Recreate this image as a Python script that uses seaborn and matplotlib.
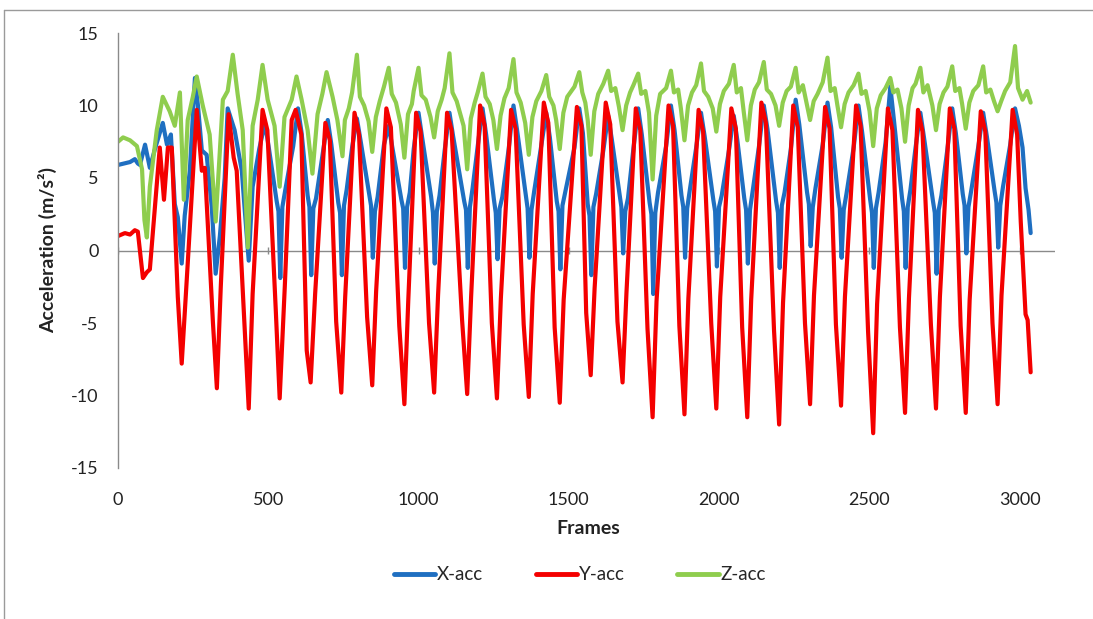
import matplotlib
matplotlib.use("Agg")
import matplotlib.pyplot as plt
from matplotlib.lines import Line2D
import seaborn as sns
import pandas as pd

# ---------------- data (frame, acceleration) ----------------
x_acc = [
    (0, 5.9), (20, 6.0), (40, 6.1), (56, 6.3), (66, 6.0), (73, 5.9), (90, 7.3), (106, 5.7), (123, 7.0),
    (149, 8.8), (163, 7.3), (176, 8.0), (189, 3.2), (199, 2.3), (212, -0.9), (222, 2.4), (239, 5.5),
    (256, 11.9), (266, 10.0), (279, 6.9), (295, 6.6), (312, 3.0), (325, -1.6), (339, 1.0), (355, 5.0),
    (365, 9.8), (388, 8.3), (412, 5.5), (421, 3.0), (435, -0.7), (448, 4.4),
    (470, 7.0), (489, 8.8), (501, 7.2), (528, 3.4), (534, 2.7), (540, -1.9), (547, 3.0), (556, 4.1), (583, 7.2),
    (599, 9.8), (611, 8.1), (631, 3.8), (637, 3.0), (643, -1.7), (650, 2.9), (659, 3.6), (682, 6.8),
    (698, 9.0), (710, 7.3), (733, 3.3), (739, 2.6), (745, -1.7), (752, 3.1), (761, 4.2), (779, 7.1),
    (795, 9.1), (807, 7.6), (836, 3.9), (842, 3.1), (848, -0.5), (855, 2.7), (864, 3.7), (885, 7.3),
    (901, 8.6), (913, 7.1), (943, 3.5), (949, 2.9), (955, -1.2), (962, 3.0), (971, 4.0), (984, 7.0),
    (1000, 9.5), (1012, 7.8), (1042, 3.7), (1048, 2.6), (1054, -0.9), (1061, 2.7), (1070, 3.8), (1087, 6.9),
    (1103, 9.5), (1115, 7.9), (1152, 3.4), (1158, 2.8), (1164, -1.2), (1171, 3.0), (1180, 4.3), (1197, 7.2),
    (1213, 9.8), (1225, 8.0), (1251, 3.5), (1257, 2.6), (1263, -0.6), (1270, 2.9), (1279, 3.7), (1300, 7.0),
    (1316, 10.0), (1328, 8.3), (1357, 3.8), (1363, 2.9), (1369, -0.5), (1376, 2.8), (1385, 4.1), (1409, 7.3),
    (1425, 9.5), (1437, 7.8), (1460, 3.4), (1466, 2.7), (1472, -1.3), (1479, 3.1), (1488, 4.0), (1519, 7.1),
    (1535, 9.8), (1547, 8.1), (1563, 3.2), (1569, 2.4), (1575, -1.7), (1582, 3.0), (1591, 3.9), (1615, 6.9),
    (1631, 9.3), (1643, 7.7), (1669, 3.9), (1675, 3.0), (1681, -0.2), (1688, 2.7), (1697, 3.6), (1715, 7.0),
    (1731, 9.8), (1743, 8.0), (1769, 3.3), (1775, 2.5), (1781, -3.0), (1788, 2.6), (1797, 4.0), (1824, 7.2),
    (1840, 10.0), (1852, 8.3), (1875, 3.8), (1881, 3.0), (1887, -0.5), (1894, 2.9), (1903, 4.2), (1924, 7.1),
    (1940, 9.5), (1952, 7.9), (1981, 3.5), (1987, 2.7), (1993, -1.1), (2000, 3.0), (2009, 3.8), (2033, 6.9),
    (2049, 9.3), (2061, 7.6), (2084, 3.6), (2090, 2.8), (2096, -0.9), (2103, 2.8), (2112, 4.1), (2133, 7.2),
    (2149, 10.0), (2161, 8.4), (2190, 3.4), (2196, 2.6), (2202, -1.2), (2209, 3.1), (2218, 4.0), (2239, 7.0),
    (2255, 10.4), (2267, 8.7), (2293, 4.0), (2299, 3.2), (2305, 0.3), (2312, 3.0), (2321, 4.3), (2345, 7.3),
    (2361, 10.2), (2373, 8.5), (2396, 3.7), (2402, 2.9), (2408, -0.5), (2415, 2.8), (2424, 3.9), (2448, 7.1),
    (2464, 10.0), (2476, 8.2), (2503, 3.5), (2509, 2.6), (2515, -1.2), (2522, 2.9), (2531, 4.0), (2554, 7.4),
    (2570, 11.3), (2582, 9.0), (2609, 3.6), (2615, 2.7), (2621, -1.2), (2628, 3.0), (2637, 4.2), (2654, 7.1),
    (2670, 9.5), (2682, 7.8), (2712, 3.4), (2718, 2.6), (2724, -1.6), (2731, 2.8), (2740, 3.8), (2760, 7.0),
    (2776, 9.8), (2788, 8.1), (2811, 3.9), (2817, 3.1), (2823, -0.2), (2830, 3.0), (2839, 4.1), (2863, 7.2),
    (2879, 9.5), (2891, 7.9), (2917, 4.1), (2923, 3.3), (2929, 0.2), (2936, 3.1), (2945, 4.4), (2969, 7.3),
    (2985, 9.8), (2998, 8.6), (3010, 7.1), (3020, 4.3), (3030, 2.8), (3037, 1.2),
]

y_acc = [
    (0, 1.0), (23, 1.2), (40, 1.1), (56, 1.4), (66, 1.3), (83, -1.9), (96, -1.5), (106, -1.3), (139, 7.1),
    (153, 3.5), (166, 7.1), (179, 7.1), (199, -3.2), (212, -7.8), (232, -0.9), (262, 9.7), (279, 5.5),
    (289, 5.7), (316, -5.0), (329, -9.5), (342, -2.5), (368, 9.4), (385, 6.4), (395, 5.5), (422, -5.5),
    (435, -10.9), (448, -3.0), (481, 9.7), (497, 8.3), (525, -4.1), (538, -10.2), (555, -2.5), (578, 9.0),
    (591, 9.7), (610, 8.0), (628, -6.9), (641, -9.1), (656, -3.0), (690, 8.8),
    (705, 7.6), (726, -4.9), (743, -9.8), (756, -3.2), (787, 9.5),
    (802, 8.0), (829, -4.6), (846, -9.3), (859, -2.8), (893, 9.8),
    (908, 8.5), (936, -5.2), (953, -10.6), (966, -3.4), (992, 9.5),
    (1007, 8.2), (1035, -5.0), (1052, -9.8), (1065, -3.1), (1095, 9.5),
    (1110, 8.3), (1145, -4.8), (1162, -9.9), (1175, -3.2), (1205, 10.0),
    (1220, 8.6), (1244, -5.0), (1261, -10.2), (1274, -3.3), (1308, 9.7),
    (1323, 8.4), (1350, -5.1), (1367, -10.1), (1380, -3.0), (1417, 10.2),
    (1432, 8.8), (1453, -5.3), (1470, -10.5), (1483, -3.4), (1527, 9.9),
    (1542, 8.6), (1558, -4.3), (1573, -8.6), (1586, -2.6), (1623, 10.2),
    (1638, 8.7), (1662, -4.9), (1679, -9.1), (1692, -2.9), (1723, 9.8),
    (1738, 8.3), (1762, -5.4), (1779, -11.5), (1792, -3.5), (1832, 10.0),
    (1847, 8.6), (1868, -5.2), (1885, -11.3), (1898, -3.3), (1932, 9.7),
    (1947, 8.2), (1974, -5.0), (1991, -10.9), (2004, -3.2), (2041, 9.8),
    (2056, 8.4), (2077, -5.3), (2094, -11.5), (2107, -3.4), (2141, 10.2),
    (2156, 8.8), (2183, -5.5), (2200, -12.0), (2213, -3.6), (2247, 10.0),
    (2262, 8.5), (2286, -5.0), (2303, -10.6), (2316, -3.1), (2353, 9.9),
    (2368, 8.4), (2389, -5.1), (2406, -10.7), (2419, -3.2), (2456, 10.0),
    (2471, 8.6), (2496, -5.6), (2513, -12.6), (2526, -3.7), (2562, 9.8),
    (2577, 8.3), (2602, -5.3), (2619, -11.2), (2632, -3.3), (2662, 9.7),
    (2677, 8.2), (2705, -5.1), (2722, -10.9), (2735, -3.2), (2768, 9.8),
    (2783, 8.4), (2804, -5.2), (2821, -11.2), (2834, -3.4), (2871, 9.6),
    (2886, 8.2), (2910, -5.0), (2927, -10.6), (2940, -3.1), (2977, 9.7),
    (2992, 8.0), (3004, 2.0), (3020, -4.4), (3027, -4.8), (3037, -8.4),
]

z_acc = [
    (0, 7.5), (17, 7.8), (40, 7.6), (63, 7.2), (80, 5.6), (88, 2.1), (96, 0.9), (106, 4.4), (129, 8.3),
    (149, 10.6), (172, 9.6), (189, 8.6), (206, 10.9), (219, 3.5), (232, 9.0), (249, 10.6), (262, 12.0),
    (282, 10.0), (305, 8.0), (325, 2.0), (349, 10.4), (365, 11.0), (382, 13.5), (398, 10.8), (415, 8.3),
    (432, 0.2), (448, 8.6), (465, 10.4), (481, 12.8), (498, 10.4), (521, 8.6), (538, 4.4), (554, 9.2),
    (578, 10.4), (594, 12.0), (611, 10.4), (631, 8.3), (647, 5.3), (664, 9.4), (680, 10.8), (694, 12.3),
    (714, 10.6), (730, 9.0), (747, 6.5),
    (755, 9.0), (768, 9.8), (779, 10.9), (795, 13.5), (805, 10.6), (819, 10.0), (834, 8.9), (846, 6.8),
    (858, 9.2), (871, 10.3), (885, 11.3), (901, 12.6), (911, 10.8), (925, 10.2), (941, 8.7), (953, 6.4),
    (965, 9.4), (978, 10.1), (984, 11.0), (1000, 12.6), (1010, 10.7), (1024, 10.4), (1040, 9.2), (1052, 7.8),
    (1064, 9.6), (1077, 10.4), (1087, 11.2), (1103, 13.6), (1113, 10.9), (1127, 10.3), (1150, 8.6), (1162, 5.6),
    (1174, 9.1), (1187, 10.2), (1197, 10.9), (1213, 12.2), (1223, 10.6), (1237, 10.1), (1249, 9.0), (1261, 7.0),
    (1273, 9.3), (1286, 10.5), (1300, 11.2), (1316, 13.2), (1326, 10.9), (1340, 10.2), (1355, 8.8), (1367, 6.6),
    (1379, 9.2), (1392, 10.3), (1409, 11.0), (1425, 12.1), (1435, 10.6), (1449, 10.0), (1458, 9.0), (1470, 7.0),
    (1482, 9.5), (1495, 10.6), (1519, 11.3), (1535, 12.3), (1545, 10.9), (1555, 10.2), (1563, 9.0), (1573, 6.6),
    (1585, 9.6), (1598, 10.8), (1615, 11.5), (1631, 12.4), (1641, 11.0), (1655, 11.2), (1667, 9.9), (1679, 8.3),
    (1691, 10.0), (1704, 10.9), (1715, 11.4), (1731, 12.2), (1741, 10.8), (1755, 11.0), (1767, 9.5), (1779, 4.9),
    (1791, 9.3), (1804, 10.8), (1824, 11.2), (1840, 12.4), (1850, 10.9), (1864, 11.1), (1873, 9.8), (1885, 7.6),
    (1897, 10.0), (1910, 10.9), (1924, 11.4), (1940, 12.9), (1950, 11.0), (1964, 10.6), (1979, 9.8), (1991, 8.2),
    (2003, 10.1), (2016, 11.0), (2033, 11.5), (2049, 12.8), (2059, 10.9), (2073, 11.2), (2082, 9.6), (2094, 7.6),
    (2106, 10.0), (2119, 11.1), (2133, 11.6), (2149, 13.0), (2159, 11.1), (2173, 10.8), (2188, 10.0), (2200, 8.6),
    (2212, 10.2), (2225, 11.0), (2239, 11.3), (2255, 12.6), (2265, 10.9), (2279, 11.4), (2291, 10.2), (2303, 9.0),
    (2315, 10.3), (2328, 10.8), (2345, 11.6), (2361, 13.3), (2371, 11.0), (2385, 11.2), (2394, 10.0), (2406, 8.5),
    (2418, 10.1), (2431, 10.9), (2448, 11.4), (2464, 12.2), (2474, 10.8), (2488, 11.0), (2501, 9.6), (2513, 7.2),
    (2525, 9.8), (2538, 10.7), (2554, 11.2), (2570, 11.9), (2580, 10.9), (2594, 11.1), (2607, 9.8), (2619, 7.5),
    (2631, 10.0), (2644, 11.2), (2654, 11.5), (2670, 12.6), (2680, 10.9), (2694, 11.4), (2710, 10.0), (2722, 8.3),
    (2734, 10.1), (2747, 10.9), (2760, 11.3), (2776, 12.7), (2786, 11.0), (2800, 11.2), (2809, 10.1), (2821, 8.4),
    (2833, 10.2), (2846, 11.0), (2863, 11.4), (2879, 12.7), (2889, 10.9), (2903, 11.1), (2915, 10.3), (2927, 9.6),
    (2939, 10.3), (2952, 11.0), (2969, 11.6), (2985, 14.1), (2995, 11.2), (3010, 10.4), (3025, 11.0), (3037, 10.2),
]

series_names = ["X-acc", "Y-acc", "Z-acc"]
series_colors = ["#1f6fc1", "#f40000", "#8fcd4e"]
y_ticks = [-15, -10, -5, 0, 5, 10, 15]
x_ticks = [0, 500, 1000, 1500, 2000, 2500, 3000]

# ---------------- build table ----------------
rows = []
for name, pts in zip(series_names, [x_acc, y_acc, z_acc]):
    for f, v in pts:
        rows.append({"Frame": f, "Acc": v, "Series": name})
df = pd.DataFrame(rows)

sns.set_theme(style="white")
plt.rcParams["font.family"] = ["Lato", "DejaVu Sans"]

W, H = 1093, 619
fig = plt.figure(figsize=(W / 100, H / 100), dpi=100)
L, R, T, B = 118, 1055, 33, 468
ax = fig.add_axes([L / W, 1 - B / H, (R - L) / W, (B - T) / H])

ax.axhline(0, color="#8a8a8a", lw=1.0, zorder=0)
ax.vlines(x_ticks, -0.25, 0.25, color="#8a8a8a", lw=1.0, zorder=0)

sns.lineplot(data=df, x="Frame", y="Acc", hue="Series", hue_order=series_names,
             palette=dict(zip(series_names, series_colors)), estimator=None, sort=False,
             linewidth=3.0, legend=False, ax=ax)
for ln in ax.lines:
    ln.set_solid_joinstyle("round")

ax.set_xlim(0, 3118)
ax.set_ylim(-15, 15)
ax.set_xticks(x_ticks)
ax.set_yticks(y_ticks)
ax.set_xticklabels([str(t) for t in x_ticks])
ax.set_yticklabels([str(t) for t in y_ticks])
ax.tick_params(axis="both", length=0, labelsize=13, colors="#222222")
ax.tick_params(axis="x", pad=17)
ax.tick_params(axis="y", pad=14)
for s in ["top", "right", "bottom"]:
    ax.spines[s].set_visible(False)
ax.spines["left"].set_color("#8a8a8a")
ax.spines["left"].set_linewidth(1.0)
ax.set_xlabel("")
ax.set_ylabel("")

fig.text(48 / W, 1 - 250 / H, "Acceleration (m/s\u00b2)", rotation=90, ha="center", va="center",
         fontsize=14, fontweight="bold", color="#222222")
fig.text(588 / W, 1 - 528 / H, "Frames", ha="center", va="center",
         fontsize=14, fontweight="bold", color="#222222")

handles = [Line2D([0], [0], color=c, lw=3.5) for c in series_colors]
fig.legend(handles, series_names, loc="center", bbox_to_anchor=(580 / W, 1 - 575 / H), ncol=3,
           frameon=False, fontsize=13.5, handlelength=2.2, handletextpad=0.1, columnspacing=2.8)

# outer chart-area border
fig.add_artist(Line2D([4 / W, 1], [1 - 10 / H, 1 - 10 / H], transform=fig.transFigure, color="#9a9a9a", lw=1))
fig.add_artist(Line2D([4 / W, 4 / W], [0, 1 - 10 / H], transform=fig.transFigure, color="#9a9a9a", lw=1))

fig.savefig("out.png", dpi=100)
